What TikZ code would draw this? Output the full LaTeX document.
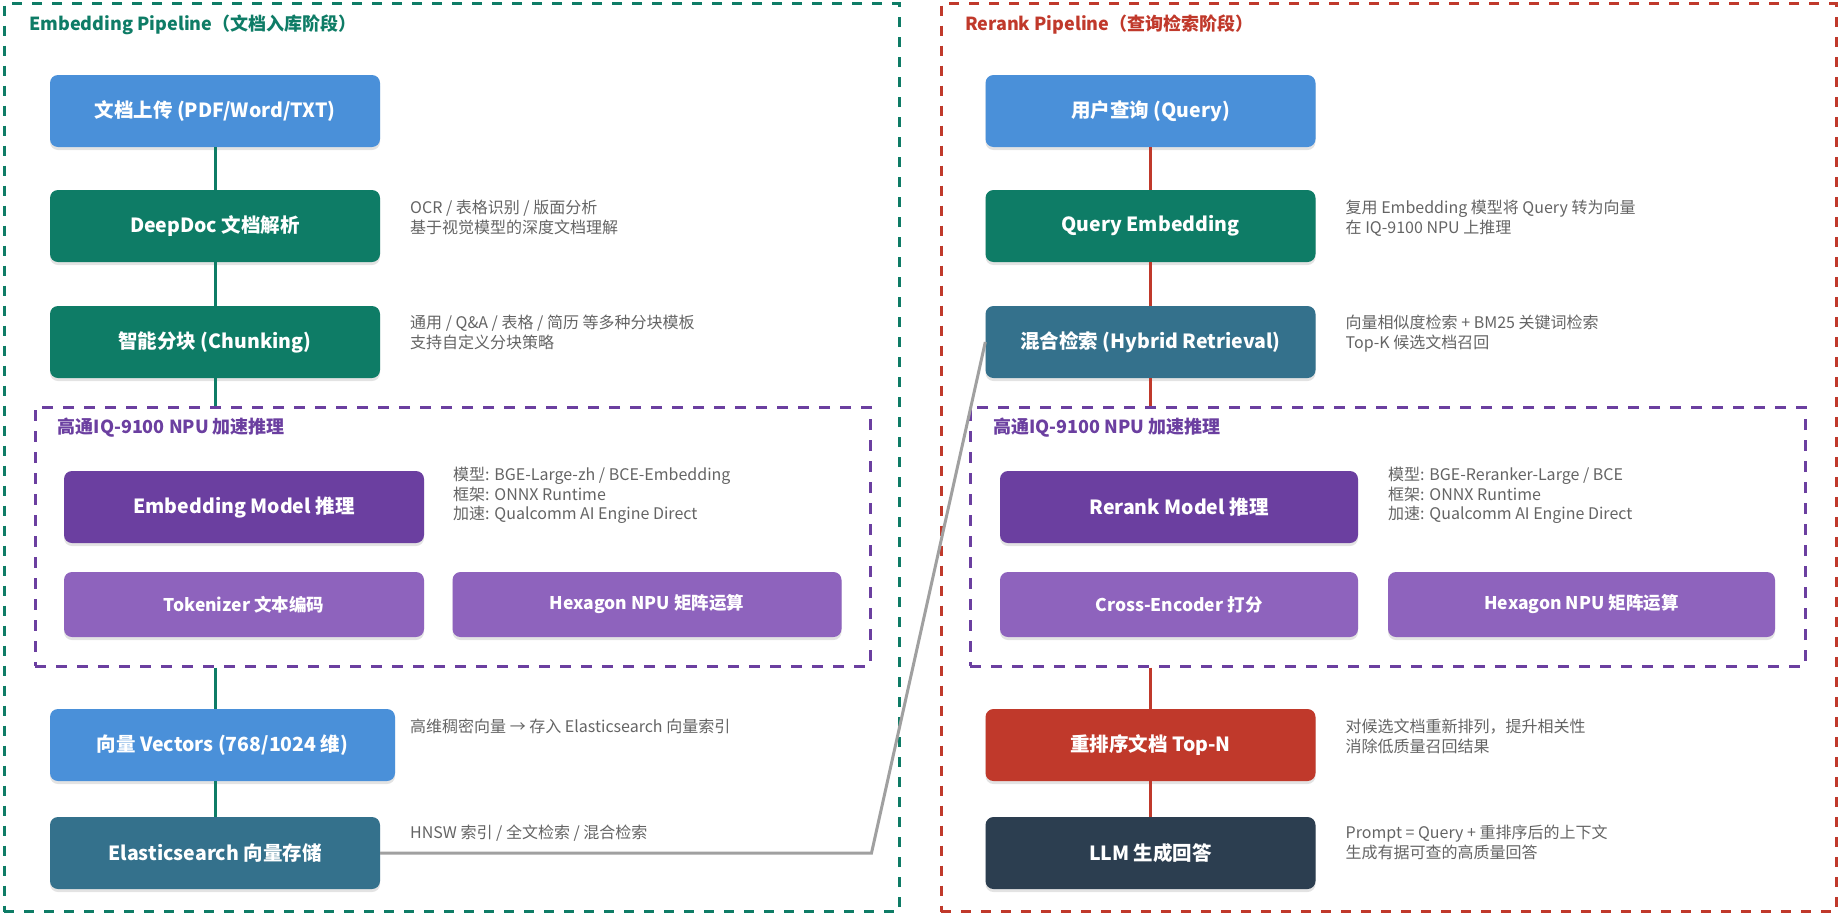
\documentclass[tikz,border=0pt]{standalone}
\usepackage{fontspec}
\setmainfont{Noto Sans CJK SC}
\usetikzlibrary{positioning, shadows}
\definecolor{stepblue}{RGB}{74,144,217}
\definecolor{stepgreen}{RGB}{14,124,102}
\definecolor{stepteal}{RGB}{52,113,140}
\definecolor{npupurple}{RGB}{107,63,160}
\definecolor{npulilac}{RGB}{142,99,189}
\definecolor{rerankred}{RGB}{192,57,43}
\definecolor{llmnavy}{RGB}{44,62,80}
\definecolor{notegray}{RGB}{100,100,100}
\definecolor{linkgray}{RGB}{160,160,160}

\begin{document}
\begin{tikzpicture}[x=1pt, y=-1pt,
    box/.style={rounded corners=8pt, text=white, font=\fontsize{19.5}{23}\selectfont\bfseries,
                minimum width=330pt, minimum height=72pt, inner sep=0pt, align=center,
                drop shadow={opacity=0.22, shadow xshift=0pt, shadow yshift=-3pt}},
    subbox/.style={box, minimum height=65pt, fill=npulilac, font=\fontsize{17.5}{21}\selectfont\bfseries},
    note/.style={anchor=north west, inner sep=0pt, align=left, text=notegray,
                 font=\fontsize{16}{20}\selectfont},
    stage/.style={draw, line width=3pt, dash pattern=on 10pt off 10pt, inner sep=0pt},
    npu/.style={draw=npupurple, line width=3pt, dash pattern=on 11pt off 10pt, inner sep=0pt,
                minimum width=835pt, minimum height=259pt},
    stagetitle/.style={anchor=west, inner sep=0pt, font=\fontsize{18}{21}\selectfont\bfseries},
    npulabel/.style={anchor=west, inner sep=0pt, text=npupurple, font=\fontsize{18}{21}\selectfont\bfseries},
    flowL/.style={line width=3pt, stepgreen},
    flowR/.style={line width=3pt, rerankred},
    link/.style={line width=3pt, linkgray},
  ]
    \useasboundingbox (0,0) rectangle (1843,921);
    % two pipeline frames
    \node[stage, draw=stepgreen, minimum width=895pt, minimum height=908pt] (embF) at (451.5,457.5) {};
    \node[stage, draw=rerankred, minimum width=895pt, minimum height=908pt] (rrkF) at (1388.5,457.5) {};
    \node[stagetitle, text=stepgreen] (embT) at (29,25) {Embedding Pipeline（文档入库阶段）};
    \node[stagetitle, text=rerankred] (rrkT) at (965,25) {Rerank Pipeline（查询检索阶段）};
    \node[npu] (npuL) at (452.5,536.5) {};
    \node[npu] (npuR) at (1387.5,536.5) {};
    \node[npulabel] (npuLT) at (57.5,428) {高通IQ-9100 NPU 加速推理};
    \node[npulabel] (npuRT) at (993,428) {高通IQ-9100 NPU 加速推理};

    % embedding side
    \node[box, fill=stepblue]  (U) at (215,111) {文档上传 (PDF/Word/TXT)};
    \node[box, fill=stepgreen] (D) at (215,226) {DeepDoc 文档解析};
    \node[box, fill=stepgreen] (C) at (215,342) {智能分块 (Chunking)};
    \node[box, fill=npupurple, minimum width=360pt] (E) at (244,507) {Embedding Model 推理};
    \node[subbox, minimum width=360pt] (T) at (244,604.5) {Tokenizer 文本编码};
    \node[subbox, minimum width=389pt] (H) at (647,604.5) {Hexagon NPU 矩阵运算};
    \node[box, fill=stepblue, minimum width=345pt] (V) at (222.5,745) {向量 Vectors (768/1024 维)};
    \node[box, fill=stepteal]  (S) at (215,853) {Elasticsearch 向量存储};

    \node[note] (nD) at (410,200) {OCR / 表格识别 / 版面分析\\基于视觉模型的深度文档理解};
    \node[note] (nC) at (410,315) {通用 / Q\&A / 表格 / 简历 等多种分块模板\\支持自定义分块策略};
    \node[note, font=\fontsize{16}{19.5}\selectfont] (nE) at (453,467) {模型: BGE-Large-zh / BCE-Embedding\\框架: ONNX Runtime\\加速: Qualcomm AI Engine Direct};
    \node[note] (nV) at (410,719) {高维稠密向量 → 存入 Elasticsearch 向量索引};
    \node[note] (nS) at (410,825) {HNSW 索引 / 全文检索 / 混合检索};

    % rerank side
    \node[box, fill=stepblue]  (Q) at (1150.5,111) {用户查询 (Query)};
    \node[box, fill=stepgreen] (QE) at (1150.5,226) {Query Embedding};
    \node[box, fill=stepteal]  (HR) at (1150.5,342) {混合检索 (Hybrid Retrieval)};
    \node[box, fill=npupurple, minimum width=358pt] (R) at (1179,507) {Rerank Model 推理};
    \node[subbox, minimum width=358pt] (X) at (1179,604.5) {Cross-Encoder 打分};
    \node[subbox, minimum width=387pt] (H2) at (1581.5,604.5) {Hexagon NPU 矩阵运算};
    \node[box, fill=rerankred] (N) at (1150.5,745) {重排序文档 Top-N};
    \node[box, fill=llmnavy]   (L) at (1150.5,853) {LLM 生成回答};

    \node[note] (nQE) at (1345.5,200) {复用 Embedding 模型将 Query 转为向量\\在 IQ-9100 NPU 上推理};
    \node[note] (nHR) at (1345.5,315) {向量相似度检索 + BM25 关键词检索\\Top-K 候选文档召回};
    \node[note, font=\fontsize{16}{19.5}\selectfont] (nR) at (1388,467) {模型: BGE-Reranker-Large / BCE\\框架: ONNX Runtime\\加速: Qualcomm AI Engine Direct};
    \node[note] (nN) at (1345.5,719) {对候选文档重新排列，提升相关性\\消除低质量召回结果};
    \node[note] (nL) at (1345.5,825) {Prompt = Query + 重排序后的上下文\\生成有据可查的高质量回答};

    \foreach \a/\b in {U/D,D/C} \draw[flowL] (\a) -- (\b);
    \draw[flowL] (C.south) -- (C.south |- npuL.north);
    \draw[flowL] (C.south |- npuL.south) -- (C.south |- V.north);
    \draw[flowL] (C.south |- V.south) -- (S.north);
    \foreach \a/\b in {Q/QE,QE/HR,N/L} \draw[flowR] (\a) -- (\b);
    \draw[flowR] (HR.south) -- (HR.south |- npuR.north);
    \draw[flowR] (HR.south |- npuR.south) -- (N.north);
    % stored vectors feed the retrieval step
    \draw[link] (S.east) -- (S.east -| npuL.east) -- (HR.west);
  \end{tikzpicture}
\end{document}
